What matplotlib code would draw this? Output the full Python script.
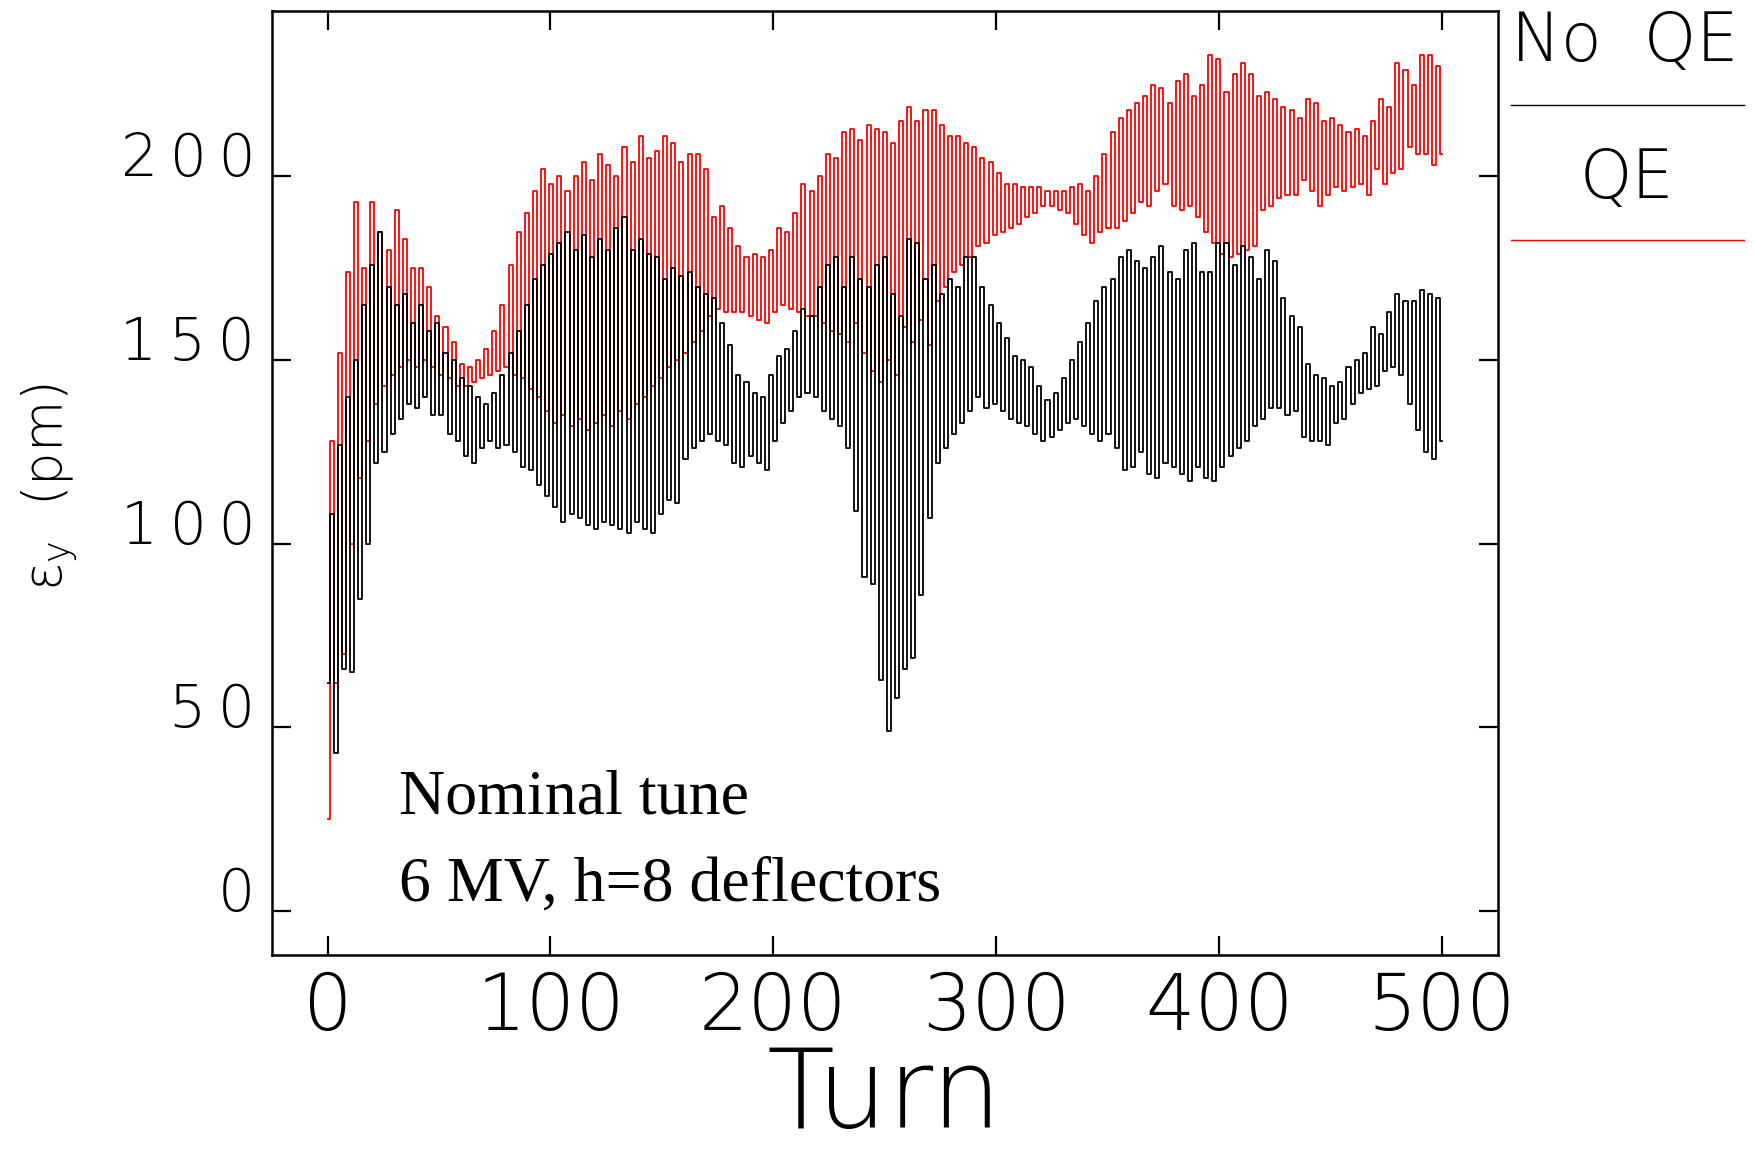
import numpy as np
import matplotlib
matplotlib.use("Agg")
import matplotlib.pyplot as plt
from matplotlib.lines import Line2D

plt.rcParams["mathtext.fontset"] = "custom"
plt.rcParams["mathtext.rm"] = "DejaVu Sans:light"
plt.rcParams["mathtext.it"] = "DejaVu Sans:light"

# ---------------- data (per oscillation cycle: trough then peak) ----------------
cycle_period = 3.65          # turns per oscillation cycle
last_turn = 500

noqe_lo = [62, 43, 66, 65, 85, 100, 122, 125, 130, 134,
           138, 137, 140, 135, 135, 130, 128, 124, 122, 126,
           128, 126, 127, 125, 121, 120, 116, 113, 110, 106,
           108, 107, 105, 104, 106, 105, 104, 103, 106, 104,
           103, 108, 112, 111, 123, 126, 128, 130, 128, 127,
           122, 121, 124, 122, 120, 128, 133, 136, 140, 141,
           140, 136, 134, 132, 126, 109, 91, 89, 63, 49,
           58, 66, 69, 86, 107, 122, 126, 130, 133, 136,
           140, 137, 138, 136, 134, 133, 132, 130, 128, 129,
           131, 133, 134, 132, 130, 128, 130, 126, 120, 121,
           125, 119, 118, 122, 121, 119, 117, 121, 118, 117,
           121, 124, 126, 128, 132, 134, 137, 137, 135, 136,
           129, 128, 128, 127, 133, 134, 138, 141, 142, 143,
           147, 148, 146, 138, 131, 125, 123]
noqe_hi = [108, 127, 140, 150, 165, 176, 185, 170, 165, 168,
           160, 165, 158, 160, 152, 150, 145, 143, 140, 138,
           141, 146, 152, 158, 165, 172, 176, 179, 182, 185,
           180, 184, 178, 183, 180, 186, 189, 180, 183, 179,
           178, 172, 175, 173, 174, 170, 168, 167, 160, 154,
           146, 144, 141, 140, 146, 151, 153, 158, 164, 162,
           170, 176, 178, 170, 178, 172, 170, 176, 178, 168,
           162, 183, 182, 172, 176, 168, 172, 170, 178, 178,
           170, 165, 160, 156, 151, 150, 148, 143, 139, 141,
           145, 150, 155, 160, 166, 170, 172, 178, 180, 177,
           175, 178, 181, 174, 172, 180, 182, 174, 174, 182,
           182, 176, 181, 178, 172, 180, 177, 167, 162, 159,
           149, 146, 145, 143, 144, 148, 150, 152, 159, 157,
           163, 168, 166, 166, 169, 168, 167]
noqe_end = 128

qe_lo = [25, 62, 70, 100, 118, 128, 138, 143, 146, 148,
         150, 148, 150, 148, 146, 145, 143, 143, 144, 145,
         146, 147, 148, 146, 145, 142, 140, 136, 133, 135,
         132, 134, 131, 133, 135, 132, 136, 134, 138, 140,
         143, 145, 148, 150, 152, 155, 158, 162, 164, 163,
         163, 163, 162, 161, 160, 163, 165, 164, 163, 162,
         162, 160, 158, 157, 155, 160, 152, 147, 144, 150,
         146, 159, 155, 161, 154, 166, 170, 174, 176, 178,
         181, 182, 184, 185, 186, 187, 189, 190, 192, 192,
         191, 190, 187, 184, 182, 185, 186, 186, 188, 190,
         193, 192, 196, 198, 192, 191, 192, 189, 185, 182,
         179, 178, 179, 180, 181, 191, 192, 194, 195, 195,
         199, 196, 192, 195, 197, 196, 197, 198, 195, 202,
         198, 201, 202, 208, 206, 206, 203]
qe_hi = [128, 152, 174, 193, 175, 193, 185, 180, 191, 183,
         175, 175, 170, 162, 159, 155, 149, 148, 150, 153,
         158, 165, 176, 185, 190, 196, 202, 198, 200, 196,
         200, 204, 199, 206, 203, 200, 208, 204, 211, 205,
         207, 211, 209, 204, 206, 206, 202, 189, 192, 186,
         181, 178, 179, 178, 180, 186, 185, 190, 198, 196,
         200, 206, 205, 212, 213, 210, 214, 213, 212, 209,
         215, 219, 215, 218, 218, 214, 211, 211, 209, 208,
         205, 204, 201, 198, 198, 197, 197, 197, 196, 196,
         196, 197, 198, 196, 200, 206, 212, 216, 218, 220,
         222, 225, 224, 220, 226, 228, 222, 225, 233, 232,
         223, 228, 231, 228, 222, 223, 221, 219, 218, 216,
         221, 220, 215, 216, 214, 212, 213, 211, 215, 221,
         219, 231, 229, 225, 233, 233, 230]
qe_end = 206

x_ticks = [0, 100, 200, 300, 400, 500]
y_ticks = [0, 50, 100, 150, 200]
y_tick_labels = ["0", "5\u20090", "1\u20090\u20090", "1\u20095\u20090", "2\u20090\u20090"]
x_tick_labels = ["0", "100", "200", "300", "400", "500"]


def series(lo, hi, end):
    n = len(lo)
    t = np.empty(2 * n + 1)
    v = np.empty(2 * n + 1)
    t[0:2 * n:2] = np.arange(n) * cycle_period
    t[1:2 * n:2] = np.arange(n) * cycle_period + cycle_period / 2
    v[0:2 * n:2] = lo
    v[1:2 * n:2] = hi
    t[-1] = last_turn
    v[-1] = end
    return t, v


# ---------------- figure ----------------
W, H = 1754, 1156
fig = plt.figure(figsize=(W / 100, H / 100), dpi=100)
fig.patch.set_facecolor("white")
ax = fig.add_axes([271.8 / W, 1 - 955 / H, (1497.7 - 271.8) / W, (955 - 11.2) / H])

tq, vq = series(qe_lo, qe_hi, qe_end)
tn, vn = series(noqe_lo, noqe_hi, noqe_end)
ax.plot(tq, vq, color="#ff0000", lw=1.3, drawstyle="steps-mid", zorder=2)
ax.plot(tn, vn, color="black", lw=1.3, drawstyle="steps-mid", zorder=3)

ax.set_xlim(-25, 525)
ax.set_ylim(-12, 245)

tick_font = dict(family="DejaVu Sans", weight="light")
ax.set_xticks(x_ticks)
ax.set_xticklabels(x_tick_labels, fontsize=56, **tick_font)
ax.set_yticks(y_ticks)
ax.set_yticklabels(y_tick_labels, fontsize=42, **tick_font)
for lbl in ax.get_yticklabels():
    lbl.set_va("baseline")

ax.tick_params(axis="both", which="major", direction="in", length=14,
               width=1.6, top=True, right=True, color="black")
ax.tick_params(axis="x", pad=11)
ax.tick_params(axis="y", pad=12)
for s in ax.spines.values():
    s.set_linewidth(1.8)
    s.set_color("black")

# axis labels
fig.text(50 / W, 1 - 487 / H, r"$\varepsilon_{\mathrm{y}}$  (pm)", rotation=90,
         ha="center", va="center", fontsize=38, family="DejaVu Sans", weight="light")
fig.text(884.7 / W, 28 / H, "Turn", ha="center", va="baseline",
         fontsize=80, family="DejaVu Sans", weight="light")

# annotation
ax.text(0.1038, 0.1494, "Nominal tune", transform=ax.transAxes,
        fontsize=46, family="Liberation Serif", ha="left", va="baseline")
ax.text(0.1038, 0.0572, "6 MV, h=8 deflectors", transform=ax.transAxes,
        fontsize=46, family="Liberation Serif", ha="left", va="baseline")

# legend outside on the right
fig.text(1511 / W, 1 - 61 / H, "No  QE", ha="left", va="baseline",
         fontsize=48, family="DejaVu Sans", weight="light")
fig.add_artist(Line2D([1511 / W, 1744 / W], [1 - 105 / H, 1 - 105 / H],
                      color="black", lw=1.0, transform=fig.transFigure))
fig.text(1627 / W, 1 - 198 / H, "QE", ha="center", va="baseline",
         fontsize=48, family="DejaVu Sans", weight="light")
fig.add_artist(Line2D([1511 / W, 1744 / W], [1 - 240 / H, 1 - 240 / H],
                      color="#ff0000", lw=1.0, transform=fig.transFigure))

fig.savefig("out.png", dpi=100, facecolor="white")
